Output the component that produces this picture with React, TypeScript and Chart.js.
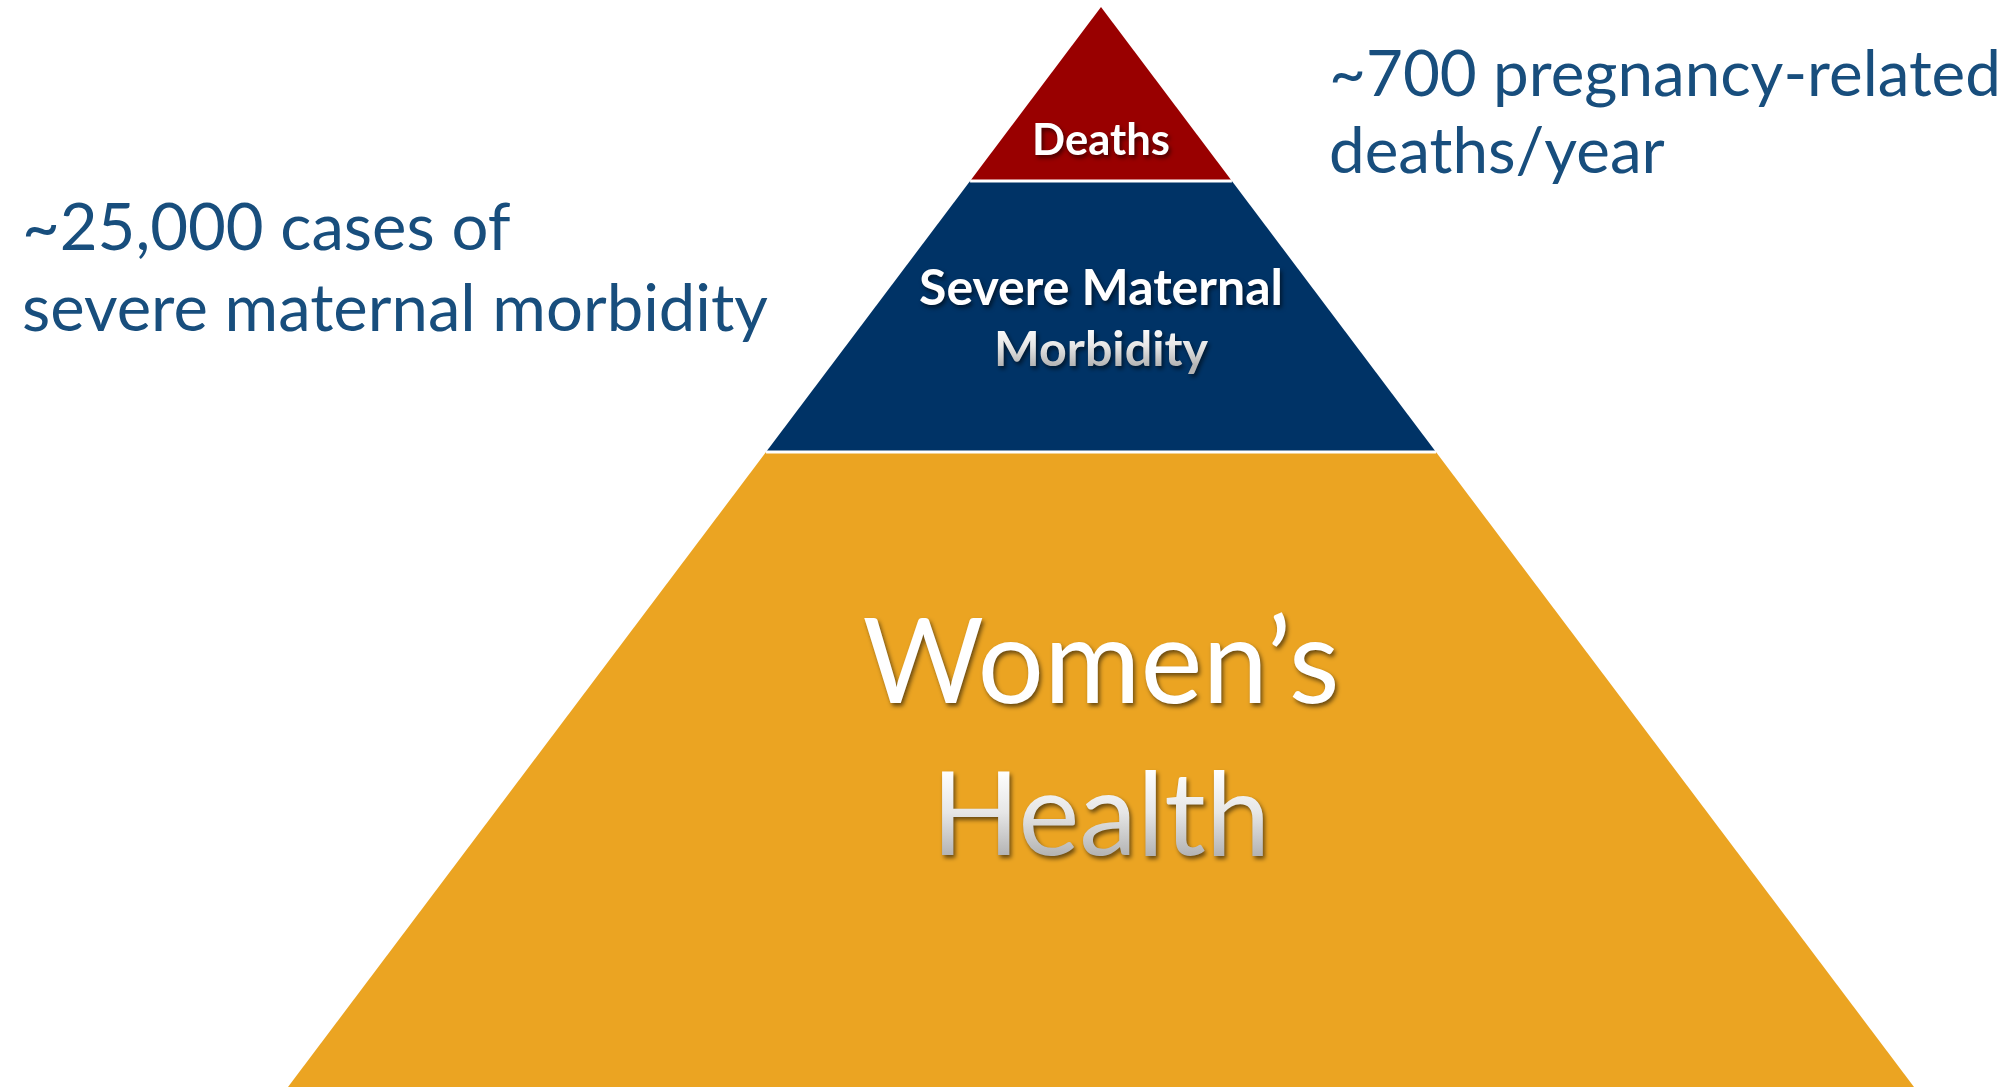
import React, { useEffect, useRef } from "react";
import { Chart, registerables } from "chart.js";

Chart.register(...registerables);

// ---- data ----
const tierLabels = ["Deaths", "Severe Maternal Morbidity", "Women's Health"];
// pyramid levels: apex = 100, base = 0
const tierTops = [100, 83.9, 58.8];
const tierBottoms = [83.9, 58.8, 0];
const tierColors = ["#990000", "#003366", "#EBA422"];
const pyramidHalfBase = 75.28; // half width of the base (x units) at level 0
const leftNote = ["~25,000 cases of", "severe maternal morbidity"];
const rightNote = ["~700 pregnancy-related", "deaths/year"];

const FAMILY = "Lato, 'Open Sans', sans-serif";
const NOTE_COLOR = "#184E7D";

function halfWidthAt(level: number) {
  return (pyramidHalfBase * (100 - level)) / 100;
}

function fit(ctx: CanvasRenderingContext2D, text: string, weight: string, width: number) {
  ctx.font = `${weight} 100px ${FAMILY}`;
  const w = ctx.measureText(text).width;
  return (100 * width) / w;
}

// fills each tier as one closed polygon built from the dataset's scaled points
const tierFillPlugin = {
  id: "tierFill",
  beforeDatasetsDraw(chart: any) {
    const ctx: CanvasRenderingContext2D = chart.ctx;
    ctx.save();
    chart.data.datasets.forEach((ds: any, i: number) => {
      const meta = chart.getDatasetMeta(i);
      const pts = meta.data;
      if (!pts || !pts.length) return;
      ctx.beginPath();
      ctx.moveTo(pts[0].x, pts[0].y);
      for (let k = 1; k < pts.length; k++) ctx.lineTo(pts[k].x, pts[k].y);
      ctx.closePath();
      ctx.fillStyle = ds.backgroundColor;
      ctx.fill();
    });
    ctx.restore();
  },
};

const labelPlugin = {
  id: "pyramidLabels",
  afterDatasetsDraw(chart: any) {
    const ctx: CanvasRenderingContext2D = chart.ctx;
    const xs = chart.scales.x;
    const cx = xs.getPixelForValue(0);
    ctx.save();
    ctx.textBaseline = "alphabetic";

    const white = (text: string, weight: string, width: number, y: number) => {
      const size = fit(ctx, text, weight, width);
      ctx.font = `${weight} ${size}px ${FAMILY}`;
      ctx.textAlign = "center";
      ctx.shadowColor = "rgba(0,0,0,0.55)";
      ctx.shadowOffsetX = 2;
      ctx.shadowOffsetY = 3;
      ctx.shadowBlur = 4;
      ctx.fillStyle = "#ffffff";
      ctx.fillText(text, cx, y);
    };
    const silver = (text: string, weight: string, width: number, y: number, capH: number) => {
      const size = fit(ctx, text, weight, width);
      ctx.font = `${weight} ${size}px ${FAMILY}`;
      ctx.textAlign = "center";
      const g = ctx.createLinearGradient(0, y - capH, 0, y);
      g.addColorStop(0, "#ffffff");
      g.addColorStop(0.5, "#e6e6e6");
      g.addColorStop(1, "#b4b4b4");
      ctx.shadowColor = "rgba(0,0,0,0.55)";
      ctx.shadowOffsetX = 2;
      ctx.shadowOffsetY = 3;
      ctx.shadowBlur = 4;
      ctx.fillStyle = g;
      ctx.fillText(text, cx, y);
    };

    white("Deaths", "bold", 138, 155);
    white("Severe Maternal", "bold", 364, 305);
    silver("Morbidity", "bold", 214, 366, 40);
    white("Women\u2019s", "normal", 477, 703);
    silver("Health", "normal", 339, 855, 85);

    ctx.shadowColor = "transparent";
    ctx.shadowBlur = 0;
    ctx.shadowOffsetX = 0;
    ctx.shadowOffsetY = 0;
    ctx.fillStyle = NOTE_COLOR;
    ctx.textAlign = "left";
    let s = fit(ctx, leftNote[1], "normal", 746);
    ctx.font = `normal ${s}px ${FAMILY}`;
    ctx.fillText(leftNote[0], 22, 250);
    ctx.fillText(leftNote[1], 22, 331);
    s = fit(ctx, rightNote[0], "normal", 672);
    ctx.font = `normal ${s}px ${FAMILY}`;
    ctx.fillText(rightNote[0], 1329, 96);
    ctx.fillText(rightNote[1], 1329, 173);
    ctx.restore();
  },
};

export default function App() {
  const ref = useRef<HTMLCanvasElement | null>(null);
  useEffect(() => {
    document.body.style.margin = "0";
    let chart: Chart | null = null;
    let cancelled = false;
    const make = () => {
      if (cancelled || !ref.current) return;
      const datasets = tierLabels.map((label, i) => {
        const top = tierTops[i];
        const bot = tierBottoms[i];
        const pts =
          top >= 100
            ? [
                { x: -halfWidthAt(bot), y: bot },
                { x: 0, y: top },
                { x: halfWidthAt(bot), y: bot },
              ]
            : [
                { x: -halfWidthAt(bot), y: bot },
                { x: -halfWidthAt(top), y: top },
                { x: halfWidthAt(top), y: top },
                { x: halfWidthAt(bot), y: bot },
              ];
        return {
          label,
          data: pts,
          showLine: true,
          fill: false,
          backgroundColor: tierColors[i],
          borderColor: "#ffffff",
          borderWidth: 3,
          pointRadius: 0,
          tension: 0,
          segment: {
            borderColor: (c: any) =>
              c.p0.parsed.y === c.p1.parsed.y ? "#ffffff" : "rgba(0,0,0,0)",
          },
        };
      });
      chart = new Chart(ref.current, {
        type: "scatter",
        data: { datasets: datasets as any },
        options: {
          animation: false,
          responsive: false,
          devicePixelRatio: 1,
          layout: { padding: 0 },
          scales: {
            x: { type: "linear", display: false, min: -101.944, max: 84.537 },
            y: { type: "linear", display: false, min: 0, max: 100.648 },
          },
          plugins: { legend: { display: false }, tooltip: { enabled: false } },
        },
        plugins: [tierFillPlugin, labelPlugin],
      });
    };
    const fonts = (document as any).fonts;
    if (fonts && fonts.load) {
      Promise.all([
        fonts.load(`bold 50px Lato`),
        fonts.load(`normal 50px Lato`),
      ]).then(make, make);
    } else make();
    return () => {
      cancelled = true;
      if (chart) chart.destroy();
    };
  }, []);
  return (
    <div style={{ width: 2014, height: 1087, background: "#ffffff" }}>
      <canvas ref={ref} width={2014} height={1087} style={{ display: "block" }} />
    </div>
  );
}
